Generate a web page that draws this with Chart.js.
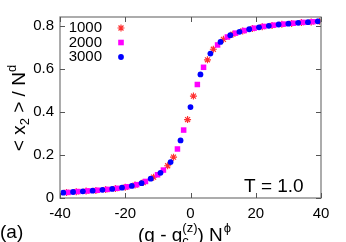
<!DOCTYPE html>
<html>
<head>
<meta charset="utf-8">
<script src="https://cdn.jsdelivr.net/npm/chart.js@4/dist/chart.umd.min.js"></script>
<style>
  html, body { margin: 0; padding: 0; background: #fff; }
  #wrap { width: 346px; height: 242px; }
</style>
</head>
<body>
<div id="wrap"><canvas id="myChart" width="346" height="242"></canvas></div>
<script>
// tick labels
const xTicks = [-40, -20, 0, 20, 40];
const yTicks = [0, 0.2, 0.4, 0.6, 0.8];

// N = 1000 (red stars)
const x1000 = [-38, -35, -32, -29, -26, -23, -20, -17, -14.5, -11.3, -7.0, -5.2, -0.9, 0.9, 5.2, 7.0, 10.1, 13, 16, 19, 22, 25, 28, 31, 34, 37, 39.5];
const y1000 = [0.026, 0.029, 0.032, 0.035, 0.039, 0.044, 0.050, 0.060, 0.072, 0.097, 0.150, 0.190, 0.365, 0.474, 0.643, 0.692, 0.738, 0.762, 0.777, 0.788, 0.797, 0.803, 0.808, 0.812, 0.816, 0.819, 0.822];

// N = 2000 (magenta squares)
const x2000 = [-37.5, -34.5, -31.5, -28.5, -25.5, -22.5, -19.5, -16.5, -13.8, -10.1, -8.3, -4.0, -2.1, 2.1, 4.0, 8.3, 11.3, 13.8, 16.5, 19.5, 22.5, 25.5, 28.5, 31.5, 34.5, 37.5];
const y2000 = [0.026, 0.030, 0.033, 0.036, 0.040, 0.045, 0.052, 0.062, 0.077, 0.108, 0.130, 0.228, 0.316, 0.528, 0.608, 0.712, 0.749, 0.767, 0.779, 0.790, 0.798, 0.804, 0.809, 0.813, 0.817, 0.820];

// N = 3000 (blue circles)
const x3000 = [-39, -36, -33, -30, -27, -24, -21, -18, -15, -12.2, -9.2, -6.1, -3.05, 0, 3.05, 6.1, 9.2, 12.2, 15, 18, 21, 24, 27, 30, 33, 36, 39];
const y3000 = [0.025, 0.028, 0.031, 0.034, 0.038, 0.042, 0.048, 0.056, 0.069, 0.090, 0.117, 0.167, 0.268, 0.423, 0.575, 0.672, 0.726, 0.757, 0.773, 0.785, 0.794, 0.801, 0.807, 0.811, 0.815, 0.818, 0.822];

const labels = ['1000', '2000', '3000'];

function pts(xs, ys) {
  return xs.map(function(x, i) { return { x: x, y: ys[i] }; });
}

const FONT = '"Liberation Sans", Arial, sans-serif';

// legend symbols
function drawSymbol(ctx, style, x, y, color) {
  ctx.save();
  ctx.fillStyle = color;
  ctx.strokeStyle = color;
  ctx.lineWidth = 1.2;
  if (style === 'star') {
    ctx.beginPath();
    const r = 3.5;
    ctx.moveTo(x - r, y); ctx.lineTo(x + r, y);
    ctx.moveTo(x, y - r); ctx.lineTo(x, y + r);
    const d = r * Math.SQRT1_2;
    ctx.moveTo(x - d, y - d); ctx.lineTo(x + d, y + d);
    ctx.moveTo(x - d, y + d); ctx.lineTo(x + d, y - d);
    ctx.stroke();
  } else if (style === 'rect') {
    ctx.fillRect(x - 2.8, y - 2.8, 5.6, 5.6);
  } else {
    ctx.beginPath();
    ctx.arc(x, y, 2.9, 0, Math.PI * 2);
    ctx.fill();
  }
  ctx.restore();
}

const decor = {
  id: 'decor',
  afterDatasetsDraw(chart) {
    const ctx = chart.ctx;
    const a = chart.chartArea;
    const sx = chart.scales.x, sy = chart.scales.y;
    ctx.save();
    // frame
    ctx.strokeStyle = '#808080';
    ctx.lineWidth = 1.3;
    ctx.strokeRect(a.left, a.top, a.right - a.left, a.bottom - a.top);
    // inward ticks on all four sides
    ctx.strokeStyle = '#555';
    ctx.lineWidth = 1;
    ctx.beginPath();
    xTicks.forEach(function(v) {
      const px = Math.round(sx.getPixelForValue(v)) + 0.5;
      ctx.moveTo(px, a.bottom); ctx.lineTo(px, a.bottom - 5);
      ctx.moveTo(px, a.top); ctx.lineTo(px, a.top + 5);
    });
    yTicks.forEach(function(v) {
      const py = Math.round(sy.getPixelForValue(v)) + 0.5;
      ctx.moveTo(a.left, py); ctx.lineTo(a.left + 5, py);
      ctx.moveTo(a.right, py); ctx.lineTo(a.right - 5, py);
    });
    ctx.stroke();

    // legend
    ctx.fillStyle = '#000';
    ctx.font = '15px ' + FONT;
    ctx.textAlign = 'right';
    ctx.textBaseline = 'middle';
    const styles = ['star', 'rect', 'circle'];
    const colors = ['#ff3030', '#ff00ff', '#0000ff'];
    labels.forEach(function(t, i) {
      const ly = a.top + 11 + i * 14.5;
      ctx.fillText(t, a.left + 42, ly);
      drawSymbol(ctx, styles[i], a.left + 61, ly, colors[i]);
    });

    // T = 1.0
    ctx.font = '19px ' + FONT;
    ctx.textAlign = 'left';
    ctx.textBaseline = 'alphabetic';
    ctx.fillText('T = 1.0', 244, 192);

    // (a)
    ctx.fillText('(a)', 0, 238);

    // x title: (g - g_c^(z)) N^phi
    const big = '19px ' + FONT, small = '13px ' + FONT;
    const base = 241;
    let x = 138;
    ctx.font = big; ctx.fillText('(g - g', x, base); x += ctx.measureText('(g - g').width;
    ctx.font = small;
    ctx.fillText('c', x, base + 4);
    ctx.fillText('(z)', x, base - 9);
    x += ctx.measureText('(z)').width;
    ctx.font = big; ctx.fillText(') N', x, base); x += ctx.measureText(') N').width;
    ctx.font = small; ctx.fillText('\u03d5', x + 1, base - 9);

    // y title: < x_2 > / N^d
    ctx.save();
    ctx.translate(25, 108);
    ctx.rotate(-Math.PI / 2);
    const parts = [['< x', big, 0], ['2', small, 4], [' > / N', big, 0], ['d', small, -9]];
    let w = 0;
    parts.forEach(function(p) { ctx.font = p[1]; w += ctx.measureText(p[0]).width; });
    let cx = -w / 2;
    parts.forEach(function(p) {
      ctx.font = p[1];
      ctx.fillText(p[0], cx, p[2]);
      cx += ctx.measureText(p[0]).width;
    });
    ctx.restore();
    ctx.restore();
  }
};

var ctx = document.getElementById('myChart').getContext('2d');
var config = {
  type: 'scatter',
  data: {
    datasets: [{
      label: labels[0],
      data: pts(x1000, y1000),
      pointStyle: 'star',
      pointRadius: 3.5,
      pointBorderWidth: 1.2,
      borderColor: '#ff3030',
      backgroundColor: '#ff3030',
      order: 2
    }, {
      label: labels[1],
      data: pts(x2000, y2000),
      pointStyle: 'rect',
      pointRadius: 3.9,
      pointBorderWidth: 0,
      borderColor: '#ff00ff',
      backgroundColor: '#ff00ff',
      order: 1
    }, {
      label: labels[2],
      data: pts(x3000, y3000),
      pointStyle: 'circle',
      pointRadius: 2.9,
      pointBorderWidth: 0,
      borderColor: '#0000ff',
      backgroundColor: '#0000ff',
      order: 0
    }]
  },
  options: {
    responsive: false,
    animation: false,
    layout: { padding: { left: 0, right: 25, top: 17, bottom: 0 } },
    plugins: { legend: { display: false }, tooltip: { enabled: false } },
    scales: {
      x: {
        type: 'linear', min: -40, max: 40,
        afterBuildTicks: function(s) { s.ticks = xTicks.map(function(v) { return { value: v }; }); },
        afterFit: function(s) { s.height = 44; },
        grid: { display: false, drawTicks: false },
        border: { display: false },
        ticks: { color: '#000', font: { family: FONT, size: 15 }, padding: 7, maxRotation: 0 }
      },
      y: {
        type: 'linear', min: 0, max: 0.842,
        afterBuildTicks: function(s) { s.ticks = yTicks.map(function(v) { return { value: v }; }); },
        afterFit: function(s) { s.width = 60; },
        grid: { display: false, drawTicks: false },
        border: { display: false },
        ticks: { color: '#000', font: { family: FONT, size: 15 }, padding: 6 }
      }
    }
  },
  plugins: [decor]
};

var chart = new Chart(ctx, config);
</script>
</body>
</html>
